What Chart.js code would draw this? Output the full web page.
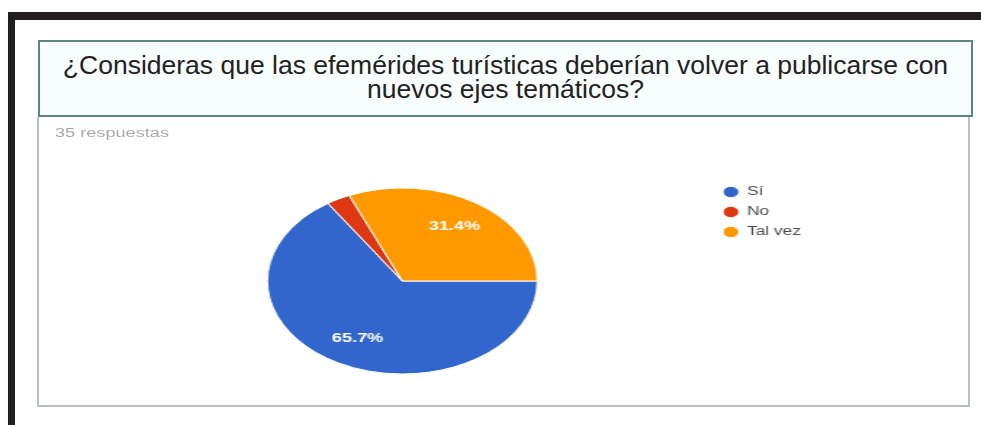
<!DOCTYPE html>
<html lang="es">
<head>
<meta charset="utf-8">
<title>Efemérides turísticas</title>
<script src="https://cdn.jsdelivr.net/npm/chart.js@4.4.0/dist/chart.umd.min.js"></script>
<style>
  html, body { margin: 0; padding: 0; background: #fff; }
  body { width: 981px; height: 425px; position: relative; overflow: hidden;
         font-family: "Liberation Sans", Arial, sans-serif; }
  /* marco negro (captura) */
  #marcoSup { position: absolute; left: 8px; top: 12px; width: 973px; height: 8px; background: #231f20; }
  #marcoIzq { position: absolute; left: 8px; top: 12px; width: 7px; height: 413px; background: #231f20; }
  #pregunta { position: absolute; left: 38px; top: 40px; width: 935px; height: 77px; box-sizing: border-box;
              border: 2px solid #5f8282; background: #f8fdfd; text-align: center;
              font-size: 26.5px; line-height: 24px; color: #222; padding-top: 11px; }
  #caja { position: absolute; left: 37px; top: 117px; width: 933px; height: 290px; box-sizing: border-box;
          border: 2px solid #b8bfcb; border-top: none; background: #fff; }
  /* la captura original esta estirada en horizontal */
  #estirado { position: absolute; left: 0; top: 1px; width: 640px; height: 286px;
              transform-origin: 0 0; transform: scaleX(1.4516); }
  #respuestas { position: absolute; left: 11px; top: 8px; font-size: 12.5px; color: #a8a8a8; }
  #pie { position: absolute; left: 0; top: 0; }
</style>
</head>
<body>
<div id="marcoSup"></div>
<div id="marcoIzq"></div>
<div id="pregunta">¿Consideras que las efemérides turísticas deberían volver a publicarse con<br>nuevos ejes temáticos?</div>
<div id="caja">
  <div id="estirado">
    <div id="respuestas"></div>
    <canvas id="pie" width="640" height="286"></canvas>
  </div>
</div>
<script>
// -------------------------
// Datos
// -------------------------
const categorias = ["Sí", "No", "Tal vez"];
const respuestas = [23, 1, 11];
const colores = ["#3366cc", "#dc3912", "#ff9900"];
const totalRespuestas = 35;

document.getElementById("respuestas").textContent = totalRespuestas + " respuestas";

// porcentajes dentro de las rebanadas (solo las grandes)
const etiquetasPct = {
  id: "etiquetasPct",
  afterDatasetsDraw(chart) {
    const ctx = chart.ctx;
    const meta = chart.getDatasetMeta(0);
    const total = respuestas.reduce((s, v) => s + v, 0);
    ctx.save();
    ctx.font = "bold 12.5px 'Liberation Sans', Arial, sans-serif";
    ctx.fillStyle = "#fff";
    ctx.textAlign = "center";
    ctx.textBaseline = "middle";
    meta.data.forEach((arc, i) => {
      const pct = respuestas[i] / total * 100;
      if (pct < 5) return;
      const p = arc.getProps(["x", "y", "startAngle", "endAngle", "outerRadius"], true);
      const mid = (p.startAngle + p.endAngle) / 2;
      const r = p.outerRadius * 0.7;
      ctx.fillText(pct.toFixed(1) + "%", p.x + Math.cos(mid) * r, p.y + Math.sin(mid) * r);
    });
    ctx.restore();
  }
};

new Chart(document.getElementById("pie"), {
  type: "pie",
  data: {
    labels: categorias,
    datasets: [{
      data: respuestas,
      backgroundColor: colores,
      borderColor: "#fff",
      borderWidth: 1,
      radius: 93
    }]
  },
  options: {
    responsive: false,
    animation: false,
    rotation: 90,
    layout: { padding: { left: 37, right: 105, top: 60, bottom: 20 } },
    plugins: {
      tooltip: { enabled: false },
      legend: {
        position: "right",
        align: "start",
        labels: {
          usePointStyle: true,
          pointStyle: "circle",
          boxWidth: 10,
          boxHeight: 8,
          padding: 8,
          color: "#4a4a4a",
          font: { size: 12, family: "'Liberation Sans', Arial, sans-serif" }
        }
      }
    }
  },
  plugins: [etiquetasPct]
});
</script>
</body>
</html>
